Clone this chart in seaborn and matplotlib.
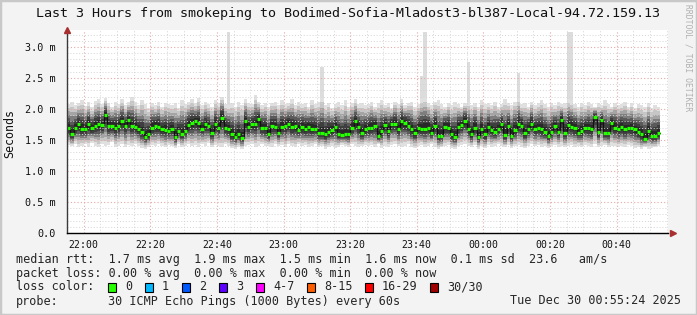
import numpy as np
import pandas as pd
import matplotlib
matplotlib.use("Agg")
import matplotlib.pyplot as plt
from matplotlib.patches import Rectangle
import seaborn as sns

# ---------------- data ----------------
title = "Last 3 Hours from smokeping to Bodimed-Sofia-Mladost3-bl387-Local-94.72.159.13"

# median RTT per minute (ms), starting 21:55
median_ms = [
    1.70, 1.59, 1.69, 1.75, 1.68, 1.67, 1.76, 1.69, 1.73, 1.75,
    1.74, 1.90, 1.73, 1.73, 1.70, 1.73, 1.80, 1.73, 1.82, 1.73,
    1.71, 1.67, 1.63, 1.55, 1.59, 1.70, 1.73, 1.71, 1.67, 1.66,
    1.64, 1.67, 1.55, 1.65, 1.60, 1.65, 1.74, 1.77, 1.80, 1.78,
    1.68, 1.75, 1.72, 1.61, 1.75, 1.70, 1.86, 1.70, 1.68, 1.59,
    1.55, 1.59, 1.54, 1.80, 1.71, 1.75, 1.75, 1.84, 1.70, 1.69,
    1.59, 1.73, 1.71, 1.62, 1.71, 1.73, 1.76, 1.71, 1.72, 1.66,
    1.71, 1.68, 1.71, 1.67, 1.68, 1.61, 1.61, 1.59, 1.63, 1.66,
    1.71, 1.60, 1.58, 1.60, 1.59, 1.70, 1.80, 1.71, 1.61, 1.68,
    1.69, 1.70, 1.73, 1.56, 1.65, 1.74, 1.64, 1.76, 1.76, 1.67,
    1.80, 1.78, 1.73, 1.67, 1.61, 1.70, 1.67, 1.68, 1.70, 1.62,
    1.73, 1.57, 1.57, 1.71, 1.70, 1.59, 1.55, 1.71, 1.74, 1.81,
    1.68, 1.59, 1.70, 1.55, 1.67, 1.59, 1.71, 1.66, 1.63, 1.68,
    1.76, 1.58, 1.73, 1.57, 1.66, 1.75, 1.73, 1.61, 1.68, 1.76,
    1.67, 1.69, 1.67, 1.63, 1.56, 1.63, 1.72, 1.63, 1.82, 1.62,
    1.74, 1.71, 1.69, 1.62, 1.64, 1.69, 1.69, 1.67, 1.87, 1.63,
    1.82, 1.61, 1.61, 1.78, 1.70, 1.68, 1.71, 1.67, 1.69, 1.69,
    1.67, 1.63, 1.59, 1.52, 1.64, 1.56, 1.56, 1.61,
]

# highest ping per minute (ms), ignoring the isolated outliers below
smoke_hi_ms = [
    2.08, 2.12, 2.06, 2.10, 2.14, 2.05, 2.11, 2.03, 2.13, 2.16,
    2.08, 2.18, 2.10, 2.04, 2.12, 2.08, 2.16, 2.06, 2.12, 2.20,
    2.12, 2.06, 2.14, 2.08, 2.02, 2.10, 2.06, 2.12, 2.04, 2.10,
    2.08, 2.06, 2.10, 2.02, 2.14, 2.08, 2.12, 2.16, 2.10, 2.18,
    2.06, 2.12, 2.08, 2.04, 2.14, 2.10, 2.20, 2.08, 2.06, 2.10,
    2.04, 2.12, 2.06, 2.16, 2.10, 2.08, 2.22, 2.12, 2.06, 2.10,
    2.04, 2.10, 2.12, 2.06, 2.14, 2.08, 2.10, 2.16, 2.06, 2.12,
    2.08, 2.10, 2.04, 2.14, 2.08, 2.12, 2.20, 2.06, 2.10, 2.02,
    2.08, 2.12, 2.06, 2.14, 2.04, 2.10, 2.16, 2.08, 2.10, 2.06,
    2.08, 2.12, 2.04, 2.10, 2.14, 2.06, 2.10, 2.02, 2.12, 2.08,
    2.16, 2.06, 2.10, 2.12, 2.04, 2.08, 2.18, 2.20, 2.10, 2.06,
    2.12, 2.14, 2.08, 2.04, 2.10, 2.06, 2.12, 2.08, 2.04, 2.10,
    2.12, 2.06, 2.10, 2.04, 2.14, 2.08, 2.10, 2.06, 2.12, 2.04,
    2.08, 2.16, 2.10, 2.06, 2.12, 2.18, 2.08, 2.10, 2.04, 2.12,
    2.06, 2.10, 2.14, 2.08, 2.04, 2.10, 2.06, 2.12, 2.08, 2.10,
    2.16, 2.14, 2.08, 2.04, 2.10, 2.06, 2.12, 2.08, 2.04, 2.10,
    2.06, 2.14, 2.08, 2.04, 2.10, 2.06, 2.08, 2.12, 2.04, 2.10,
    2.02, 2.08, 2.06, 2.04, 2.10, 2.02, 2.06, 2.04,
]

# lowest ping per minute (ms)
smoke_lo_ms = [
    1.42, 1.40, 1.44, 1.38, 1.41, 1.43, 1.39, 1.45, 1.41, 1.38,
    1.44, 1.40, 1.42, 1.46, 1.39, 1.41, 1.43, 1.38, 1.42, 1.40,
    1.44, 1.41, 1.37, 1.36, 1.39, 1.42, 1.40, 1.44, 1.41, 1.38,
    1.42, 1.40, 1.37, 1.43, 1.39, 1.41, 1.44, 1.40, 1.42, 1.38,
    1.43, 1.41, 1.45, 1.39, 1.42, 1.40, 1.38, 1.43, 1.41, 1.37,
    1.36, 1.39, 1.35, 1.40, 1.42, 1.44, 1.39, 1.41, 1.43, 1.40,
    1.41, 1.39, 1.44, 1.40, 1.42, 1.38, 1.43, 1.41, 1.39, 1.44,
    1.40, 1.42, 1.38, 1.41, 1.43, 1.39, 1.40, 1.36, 1.38, 1.41,
    1.37, 1.39, 1.42, 1.40, 1.38, 1.43, 1.41, 1.39, 1.40, 1.42,
    1.40, 1.42, 1.38, 1.43, 1.37, 1.41, 1.39, 1.42, 1.44, 1.40,
    1.38, 1.41, 1.43, 1.39, 1.37, 1.40, 1.42, 1.38, 1.41, 1.43,
    1.39, 1.36, 1.38, 1.41, 1.42, 1.37, 1.36, 1.40, 1.42, 1.44,
    1.41, 1.38, 1.42, 1.36, 1.40, 1.37, 1.42, 1.39, 1.41, 1.43,
    1.40, 1.38, 1.42, 1.37, 1.40, 1.42, 1.39, 1.37, 1.41, 1.43,
    1.40, 1.42, 1.39, 1.41, 1.37, 1.40, 1.42, 1.39, 1.41, 1.38,
    1.40, 1.42, 1.39, 1.41, 1.38, 1.42, 1.40, 1.39, 1.43, 1.38,
    1.40, 1.42, 1.39, 1.41, 1.40, 1.38, 1.41, 1.39, 1.42, 1.40,
    1.37, 1.38, 1.35, 1.39, 1.36, 1.37, 1.38, 1.40,
]

# isolated slow pings (minute index, ms)
spike_idx = [48, 76, 106, 107, 120, 135, 150, 151]
spike_ms = [3.24, 2.68, 2.53, 3.24, 2.76, 2.58, 3.24, 3.24]

xtick_labels = ["22:00", "22:20", "22:40", "23:00", "23:20", "23:40", "00:00", "00:20", "00:40"]
ytick_values = [0.0, 0.5, 1.0, 1.5, 2.0, 2.5, 3.0]
ytick_labels = ["0.0", "0.5 m", "1.0 m", "1.5 m", "2.0 m", "2.5 m", "3.0 m"]

legend_rtt = "median rtt:  1.7 ms avg  1.9 ms max  1.5 ms min  1.6 ms now  0.1 ms sd  23.6   am/s"
legend_loss = "packet loss: 0.00 % avg  0.00 % max  0.00 % min  0.00 % now"
loss_labels = ["0", "1", "2", "3", "4-7", "8-15", "16-29", "30/30"]
loss_colors = ["#26ff00", "#00b8ff", "#0059ff", "#5e00ff", "#ff00ff", "#ff5e00", "#ff0000", "#a00000"]
probe_text = "30 ICMP Echo Pings (1000 Bytes) every 60s"
date_text = "Tue Dec 30 00:55:24 2025"

# ---------------- style ----------------
sns.set_theme(style="white")
plt.rcParams["font.family"] = ["DejaVu Sans Mono"]
MONO = "DejaVu Sans Mono"

W, H = 697, 315
fig = plt.figure(figsize=(W / 100, H / 100), dpi=100)
fig.patch.set_facecolor("#f3f3f3")

def fx(px):
    return px / W

def fy(py):
    return 1 - py / H

# frame
fig.add_artist(Rectangle((0, 0), 1, 1, transform=fig.transFigure, fill=False,
                         edgecolor="#c8c8c8", lw=2.5))

L, R, T, B = 67, 668, 30, 233
ax = fig.add_axes([fx(L), fy(B), fx(R - L), (B - T) / H])
ax.set_facecolor("white")

n = len(median_ms)
df = pd.DataFrame({"minute": np.arange(n), "median": median_ms,
                   "lo": smoke_lo_ms, "hi": smoke_hi_ms})
xe = np.arange(n + 1)
med = np.append(df["median"].values, df["median"].values[-1])
lo = np.append(df["lo"].values, df["lo"].values[-1])
hi = np.append(df["hi"].values, df["hi"].values[-1])

# outliers (light smoke)
ax.bar(spike_idx, np.array(spike_ms) - 1.9, bottom=1.9, width=1.0, align="edge",
       color="#dcdcdc", linewidth=0, zorder=1)

# smoke shading
levels = [(1.00, "#e0e0e0"), (0.84, "#c6c6c6"), (0.69, "#a4a4a4"), (0.55, "#7e7e7e"),
          (0.42, "#5a5a5a"), (0.30, "#3e3e3e"), (0.17, "#282828")]
for f, c in levels:
    ax.fill_between(xe, med - f * (med - lo), med + f * (hi - med), step="post",
                    color=c, linewidth=0, zorder=1.2)

# median: dark step line + green loss-coloured band
sns.lineplot(x=xe, y=med, drawstyle="steps-post", color="#111111", lw=0.9,
             ax=ax, zorder=3)
ax.hlines(df["median"], df["minute"], df["minute"] + 1, colors=loss_colors[0],
          lw=2.3, zorder=3.5)

# axes limits / ticks
ax.set_xlim(0, 180.4)
ax.set_ylim(0, 3.274)
ax.set_xticks([5 + 20 * k for k in range(len(xtick_labels))])
ax.set_xticklabels(xtick_labels, fontsize=7.1, family=MONO)
ax.set_xticks(np.arange(0, 181, 5), minor=True)
ax.set_yticks(ytick_values)
ax.set_yticklabels(ytick_labels, fontsize=7.3, family=MONO)
ax.set_yticks(np.arange(0, 3.27, 0.1), minor=True)
ax.tick_params(axis="both", which="both", length=2, width=0.6, color="#999999",
               pad=3, labelcolor="#111111")
ax.tick_params(axis="x", which="major", pad=3)
ax.tick_params(axis="y", which="major", pad=6)

ax.set_axisbelow(False)
ax.grid(which="minor", color="#d4d4d4", ls=(0, (1, 2)), lw=0.7)
ax.grid(which="major", color="#e6a8a8", ls=(0, (1, 2)), lw=0.8)

for s in ["top", "right"]:
    ax.spines[s].set_visible(False)
ax.spines["left"].set_color("#3a3a3a")
ax.spines["left"].set_linewidth(1.0)
ax.spines["bottom"].set_color("#000000")
ax.spines["bottom"].set_linewidth(1.0)
ax.spines["left"].set_zorder(4)
ax.spines["bottom"].set_zorder(4)
# axis arrows
ax.plot([0], [1.0], marker="^", ms=4, color="#a83030", transform=ax.transAxes,
        clip_on=False, zorder=5)
ax.plot([1.003, 1.0085], [0, 0], color="black", lw=1, transform=ax.transAxes,
        clip_on=False, zorder=5)
ax.plot([1.009], [0], marker=">", ms=4, color="#a83030", transform=ax.transAxes,
        clip_on=False, zorder=5)

# texts
fig.text(fx(348), fy(14), title, ha="center", va="center", fontsize=9.6, family=MONO,
         color="#111111")
fig.text(fx(10), fy(133), "Seconds", rotation=90, ha="center", va="center",
         fontsize=8.4, family=MONO, color="#111111")
fig.text(fx(688), fy(4), "RRDTOOL / TOBI OETIKER", rotation=270, ha="center", va="top",
         fontsize=5.8, family=MONO, color="#b0b0b0")

fs = 8.5
fig.text(fx(16), fy(259), legend_rtt, ha="left", va="center", fontsize=fs, family=MONO)
fig.text(fx(16), fy(273), legend_loss, ha="left", va="center", fontsize=fs, family=MONO)
fig.text(fx(16), fy(287), "loss color:", ha="left", va="center", fontsize=fs, family=MONO)
sq_x = [108, 145, 182, 219, 256, 307, 365, 430]
for px, lab, col in zip(sq_x, loss_labels, loss_colors):
    fig.add_artist(Rectangle((fx(px), fy(292)), fx(8), 9 / H, transform=fig.transFigure,
                             facecolor=col, edgecolor="black", lw=0.8))
    fig.text(fx(px + 17), fy(287), lab, ha="left", va="center", fontsize=fs, family=MONO)
fig.text(fx(16), fy(301), "probe:", ha="left", va="center", fontsize=fs, family=MONO)
fig.text(fx(108), fy(301), probe_text, ha="left", va="center", fontsize=fs, family=MONO)
fig.text(fx(681), fy(301), date_text, ha="right", va="center", fontsize=fs, family=MONO)

fig.savefig("out.png", dpi=100, facecolor=fig.get_facecolor())
